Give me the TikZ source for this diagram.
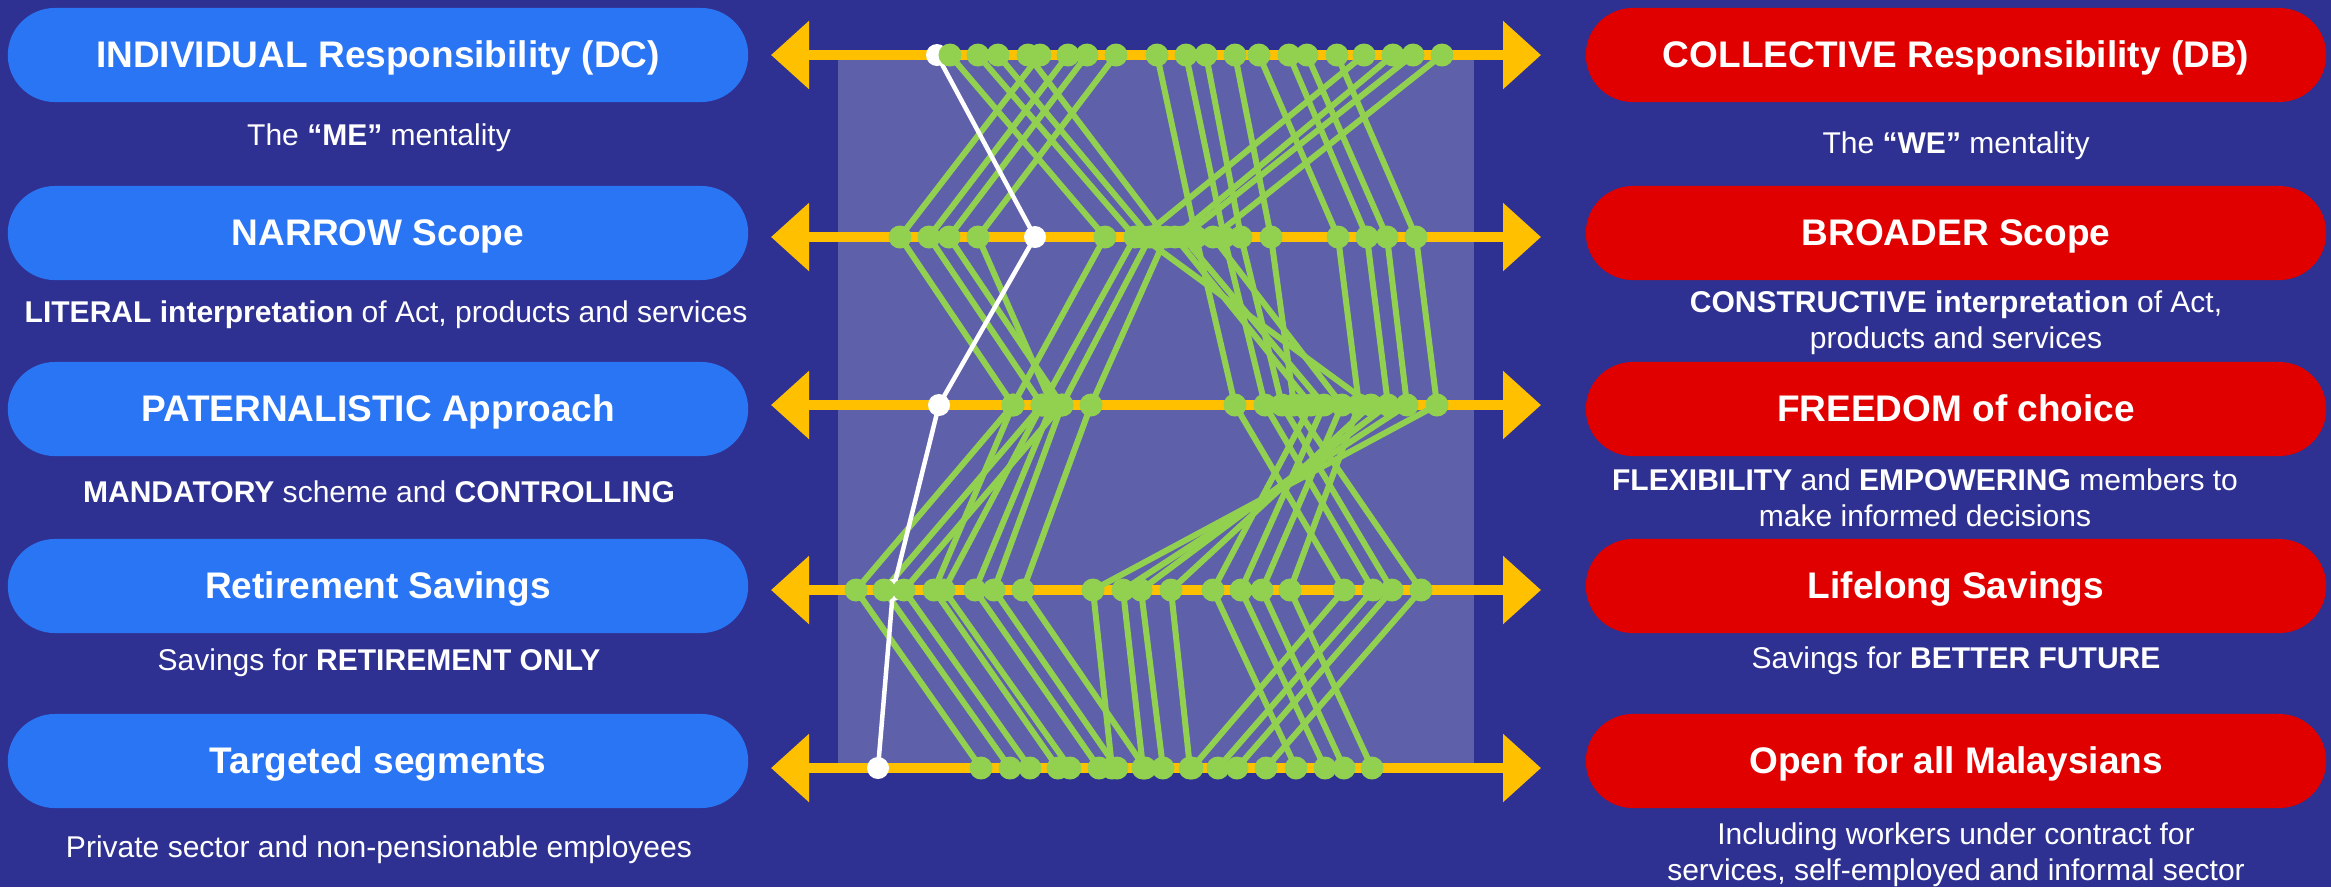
\documentclass[tikz,border=0pt]{standalone}
\usepackage{fontspec}
\setmainfont{Liberation Sans}
\usetikzlibrary{arrows.meta}
\definecolor{pnBack}{HTML}{2E3192}
\definecolor{pnPanel}{HTML}{5E61A9}
\definecolor{pnAxis}{HTML}{FFC000}
\definecolor{pnGreen}{HTML}{92D050}
\definecolor{pnDC}{HTML}{2A75F3}
\definecolor{pnDB}{HTML}{E00000}

\begin{document}
\begin{tikzpicture}[x=0.01cm, y=-0.01cm,
  box/.style={rounded corners=0.47cm, text=white, font=\fontsize{10.53pt}{12pt}\selectfont\bfseries, minimum width=7.4cm, minimum height=0.94cm, inner sep=0pt, text height=0.716em, text depth=0pt},
  sub/.style={text=white, align=center, anchor=north, font=\fontsize{8.54pt}{10.24pt}\selectfont, inner sep=0pt},
  axis/.style={pnAxis, line width=0.1cm, {Triangle[length=0.38cm, width=0.66cm]}-{Triangle[length=0.38cm, width=0.66cm]}},
  gline/.style={pnGreen, line width=0.06cm, line join=round},
  wline/.style={white, line width=0.045cm, line join=round},
  gdot/.style={circle, fill=pnGreen, minimum size=0.23cm, inner sep=0pt},
  wdot/.style={circle, fill=white, minimum size=0.22cm, inner sep=0pt}
]
\useasboundingbox (0,0) rectangle (2331,887);
\fill[pnBack] (0,0) rectangle (2331,887);
\fill[pnPanel] (838,55) rectangle (1474,768);

% left column (DC)
\node[box, fill=pnDC] (dc1) at (378,55) {INDIVIDUAL Responsibility (DC)};
\node[box, fill=pnDC] (dc2) at (378,233) {NARROW Scope};
\node[box, fill=pnDC] (dc3) at (378,409) {PATERNALISTIC Approach};
\node[box, fill=pnDC] (dc4) at (378,586) {Retirement Savings};
\node[box, fill=pnDC] (dc5) at (378,761) {Targeted segments};

\node[sub] (dcs1) at (379,123) {The \textbf{“ME”} mentality};
\node[sub] (dcs2) at (386,300) {\textbf{LITERAL interpretation} of Act, products and services};
\node[sub] (dcs3) at (379,480) {\textbf{MANDATORY} scheme and \textbf{CONTROLLING}};
\node[sub] (dcs4) at (379,648) {Savings for \textbf{RETIREMENT ONLY}};
\node[sub] (dcs5) at (379,835) {Private sector and non-pensionable employees};

% right column (DB)
\node[box, fill=pnDB] (db1) at (1956,55) {COLLECTIVE Responsibility (DB)};
\node[box, fill=pnDB] (db2) at (1956,233) {BROADER Scope};
\node[box, fill=pnDB] (db3) at (1956,409) {FREEDOM of choice};
\node[box, fill=pnDB] (db4) at (1956,586) {Lifelong Savings};
\node[box, fill=pnDB] (db5) at (1956,761) {Open for all Malaysians};

\node[sub] (dbs1) at (1956,131) {The \textbf{“WE”} mentality};
\node[sub] (dbs2) at (1956,290) {\textbf{CONSTRUCTIVE interpretation} of Act,\\products and services};
\node[sub] (dbs3) at (1925,468) {\textbf{FLEXIBILITY} and \textbf{EMPOWERING} members to\\make informed decisions};
\node[sub] (dbs4) at (1956,646) {Savings for \textbf{BETTER FUTURE}};
\node[sub] (dbs5) at (1956,822) {Including workers under contract for\\services, self-employed and informal sector};

% scales
\foreach \y [count=\k] in {55,237,405,590,768} {
  \coordinate (axL\k) at (771,\y);
  \coordinate (axR\k) at (1541,\y);
  \draw[axis] (axL\k) -- (axR\k);
}

% answers, one run per respondent
\def\greenruns{1040/900/1013/856/981, 1068/929/1042/884/1010, 1087/949/1062/904/1030,
  950/1105/1013/934/1058, 978/1135/1042/944/1070, 1116/978/1052/975/1099,
  998/1150/1062/994/1117, 1028/1166/1091/1023/1145, 1337/1416/1437/1093/1112,
  1307/1387/1407/1123/1143, 1289/1367/1388/1141/1163, 1364/1142/1371/1171/1190,
  1393/1175/1311/1213/1296, 1413/1183/1324/1241/1325, 1442/1213/1342/1262/1344,
  1259/1338/1359/1290/1372, 1157/1196/1235/1344/1192, 1186/1224/1265/1373/1218,
  1206/1241/1282/1392/1237, 1235/1271/1294/1421/1266}
\foreach \a/\b/\c/\d/\e [count=\i] in \greenruns {
  \coordinate (g\i-1) at (\a,55);
  \coordinate (g\i-2) at (\b,237);
  \coordinate (g\i-3) at (\c,405);
  \coordinate (g\i-4) at (\d,590);
  \coordinate (g\i-5) at (\e,768);
  \draw[gline] (g\i-1) -- (g\i-2) -- (g\i-3) -- (g\i-4) -- (g\i-5);
}

% reference run
\foreach \x [count=\k] in {937,1035,939,893,878} {
  \pgfmathsetmacro\yy{{55,237,405,590,768}[\k-1]}
  \coordinate (w\k) at (\x,\yy);
}
\draw[wline] (w1) -- (w2) -- (w3) -- (w4) -- (w5);
\foreach \k in {1,...,5} \node[wdot] (wd\k) at (w\k) {};

\foreach \i in {1,...,20}
  \foreach \k in {1,...,5}
    \node[gdot] (gd\i-\k) at (g\i-\k) {};
\end{tikzpicture}
\end{document}
